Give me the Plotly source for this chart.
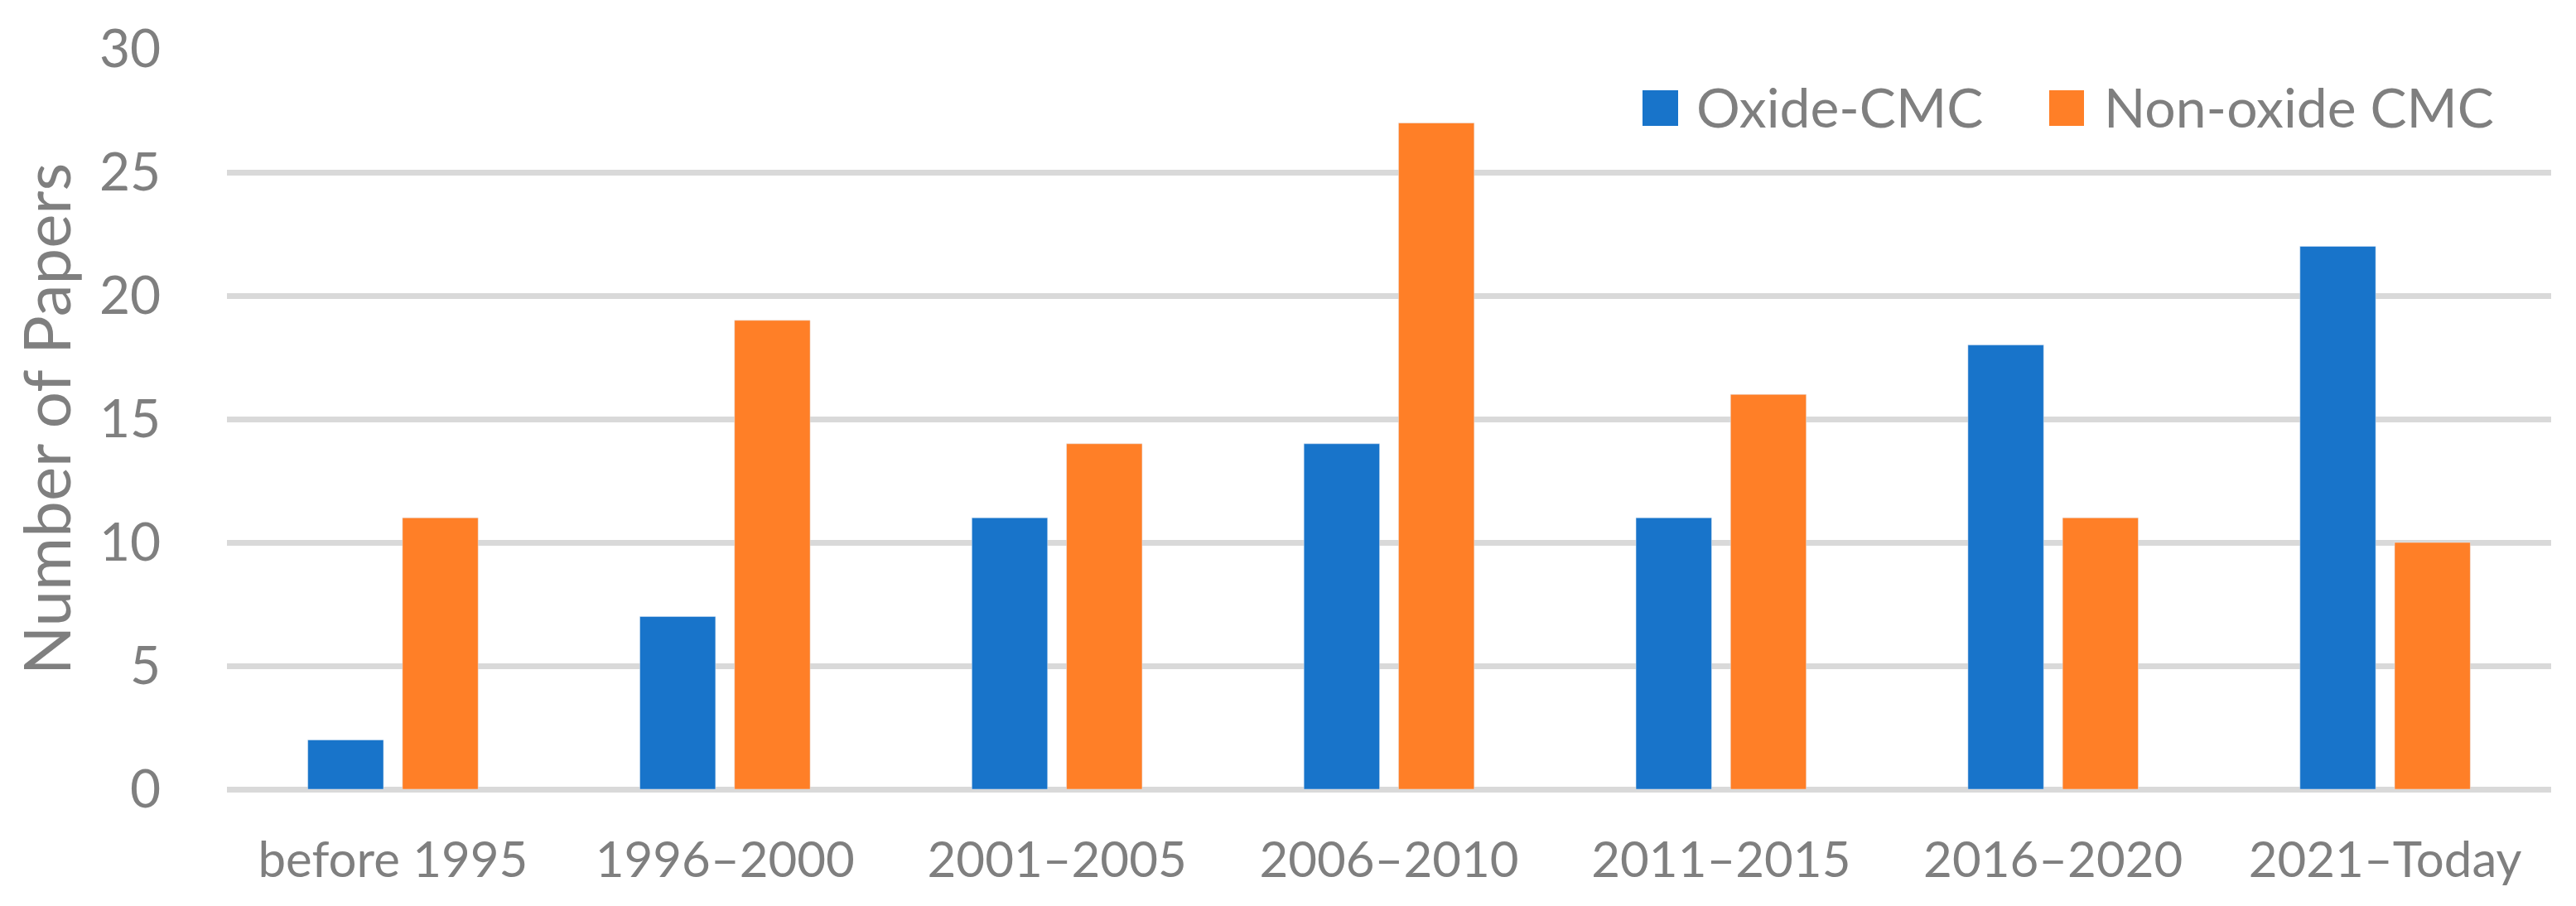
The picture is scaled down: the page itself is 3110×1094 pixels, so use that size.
import plotly.graph_objects as go

categories = ["before 1995", "1996–2000", "2001–2005", "2006–2010", "2011–2015", "2016–2020", "2021–Today"]
oxide_cmc = [2, 7, 11, 14, 11, 18, 22]
non_oxide_cmc = [11, 19, 14, 27, 16, 11, 10]
series_names = ["Oxide-CMC", "Non-oxide CMC"]
y_ticks = [0, 5, 10, 15, 20, 25, 30]

BLUE = "#1874CA"
ORANGE = "#FF7F27"
GRID = "#D9D9D9"
TEXT = "#7F7F7F"
FONT = "Lato"

# page has an 8px default body margin; figure is sized to fit inside it
PAGE_OFF = 8
W, H = 3110 - 2 * PAGE_OFF, 1094 - 2 * PAGE_OFF
PL, PT = 274, 59            # plot-area origin in page pixels
pw, ph = 2806, 894          # plot-area size
L, T = PL - PAGE_OFF, PT - PAGE_OFF
R, B = W - L - pw, H - T - ph

fig = go.Figure()
fig.add_trace(go.Bar(x=categories, y=oxide_cmc, name=series_names[0], marker_color=BLUE, showlegend=False))
fig.add_trace(go.Bar(x=categories, y=non_oxide_cmc, name=series_names[1], marker_color=ORANGE, showlegend=False))

def px_x(p):
    return (p - PL) / pw

def px_y(p):
    return (PT + ph - p) / ph

# legend drawn as shapes + text
legend_items = [(series_names[0], BLUE, 1983, 2026, 2046), (series_names[1], ORANGE, 2474, 2516, 2538)]
for name, col, sx0, sx1, tx in legend_items:
    fig.add_shape(type="rect", xref="paper", yref="paper",
                  x0=px_x(sx0), x1=px_x(sx1), y0=px_y(152), y1=px_y(109),
                  fillcolor=col, line_width=0)
    fig.add_annotation(xref="paper", yref="paper", x=px_x(tx), y=px_y(128),
                       xanchor="left", yanchor="middle", text=name, showarrow=False,
                       font=dict(family=FONT, size=66, color=TEXT))

fig.update_layout(
    width=W, height=H,
    margin=dict(l=L, r=R, t=T, b=B, autoexpand=False),
    paper_bgcolor="white", plot_bgcolor="white",
    barmode="group", bargap=0.43, bargroupgap=0.2,
    font=dict(family=FONT, color=TEXT),
    showlegend=False,
)
fig.update_xaxes(
    type="category", showgrid=False, showline=False, zeroline=False,
    ticks="outside", ticklen=33, tickcolor="rgba(0,0,0,0)",
    tickfont=dict(family=FONT, size=60, color=TEXT), automargin=False,
)
fig.update_yaxes(
    range=[0, 30], tickvals=y_ticks, showgrid=True, gridcolor=GRID, gridwidth=7,
    zeroline=True, zerolinecolor=GRID, zerolinewidth=7, showline=False,
    ticks="outside", ticklen=66, tickcolor="rgba(0,0,0,0)",
    tickfont=dict(family=FONT, size=64, color=TEXT), automargin=False,
    title=dict(text="Number of Papers", font=dict(family=FONT, size=78, color=TEXT), standoff=38),
)

fig.write_html("out.html")
